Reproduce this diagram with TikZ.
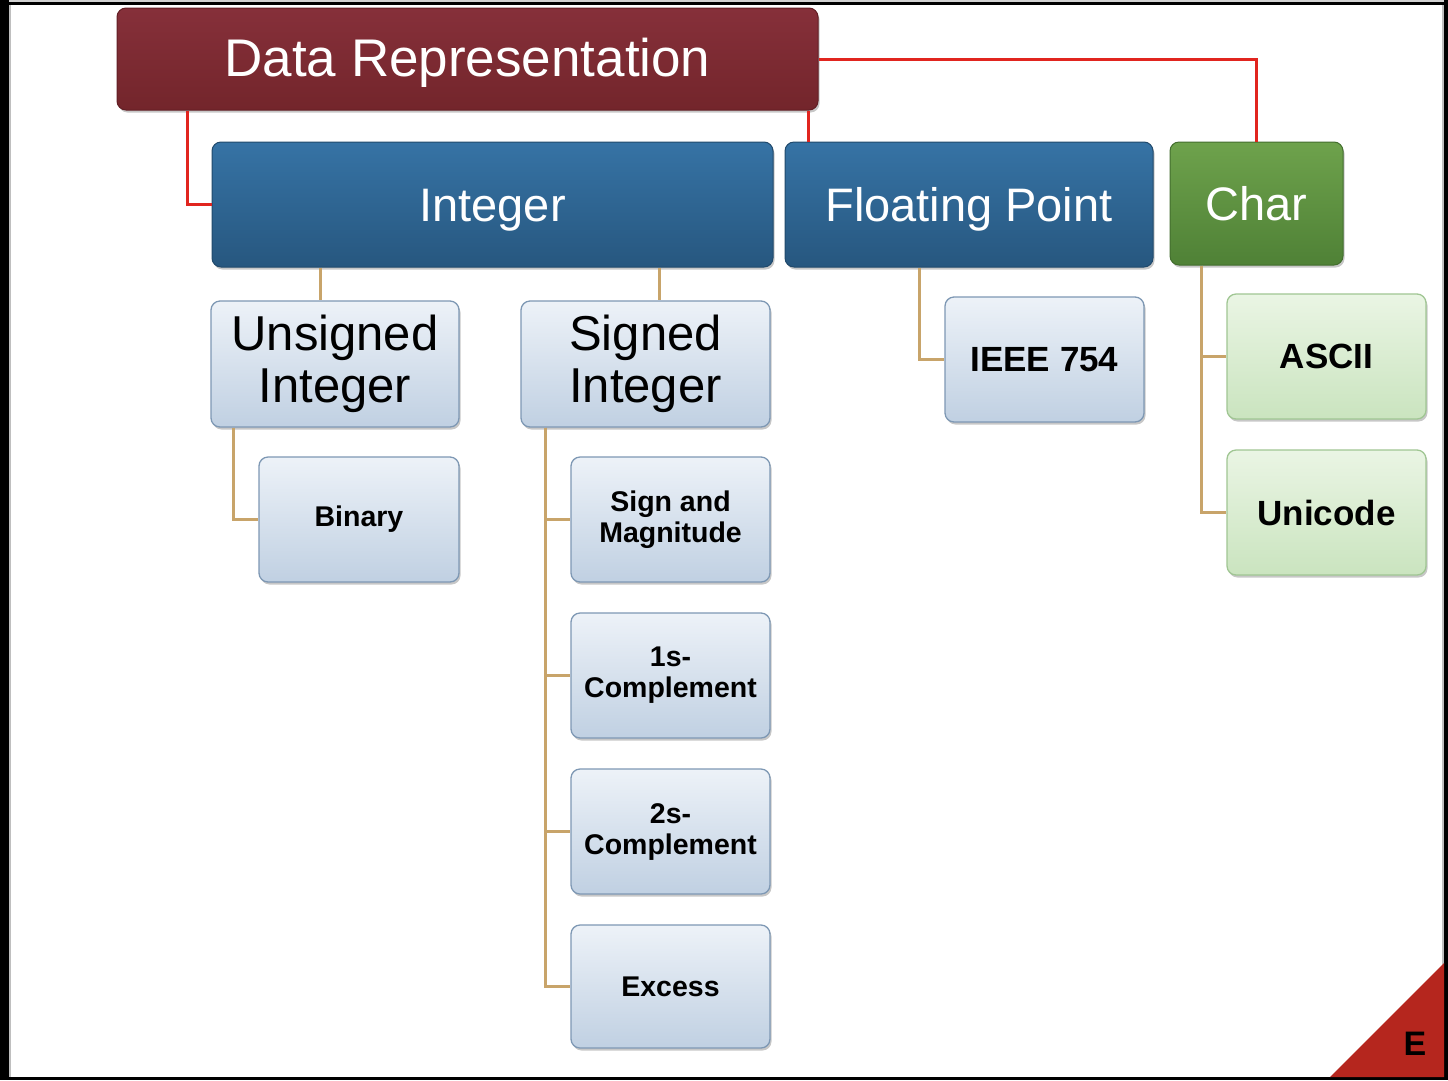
\documentclass[tikz,border=0pt]{standalone}
\usepackage{fontspec}
\setmainfont{Liberation Sans}
\usetikzlibrary{shadows}
\definecolor{drtop}{HTML}{86303A}
\definecolor{drbot}{HTML}{73252B}
\definecolor{bltop}{HTML}{3673A5}
\definecolor{blbot}{HTML}{27577F}
\definecolor{grtop}{HTML}{6EA24C}
\definecolor{grbot}{HTML}{4F8136}
\definecolor{lbtop}{HTML}{EDF2F8}
\definecolor{lbbot}{HTML}{C0D0E2}
\definecolor{lbdraw}{HTML}{7E98B4}
\definecolor{lgtop}{HTML}{EAF5E4}
\definecolor{lgbot}{HTML}{CAE4BF}
\definecolor{lgdraw}{HTML}{A0C693}
\definecolor{redln}{HTML}{E1251F}
\definecolor{tanln}{HTML}{C8A46A}
\definecolor{tricol}{HTML}{B5261E}
\begin{document}
\begin{tikzpicture}[x=1pt,y=-1pt,
  box/.style={rounded corners=9pt, inner sep=0pt, align=center,
    drop shadow={shadow xshift=1.5pt,shadow yshift=-2.5pt,fill=black,opacity=0.22}},
  redbox/.style={box, top color=drtop, bottom color=drbot, draw=drbot!85!black, line width=1pt, text=white,
    font=\fontsize{53}{60}\selectfont, text height=34pt, text depth=0pt},
  bluebox/.style={box, top color=bltop, bottom color=blbot, draw=blbot!85!black, line width=1pt, text=white,
    font=\fontsize{47}{54}\selectfont, text height=33.6pt, text depth=0pt},
  greenbox/.style={box, top color=grtop, bottom color=grbot, draw=grbot!85!black, line width=1pt, text=white,
    font=\fontsize{47}{54}\selectfont, text height=33.6pt, text depth=0pt},
  lightbox/.style={box, top color=lbtop, bottom color=lbbot, draw=lbdraw, line width=1.3pt, text=black,
    minimum width=199pt, minimum height=125pt},
  lgbox/.style={box, top color=lgtop, bottom color=lgbot, draw=lgdraw, line width=1.3pt, text=black,
    minimum width=199pt, minimum height=125pt},
  bigtxt/.style={font=\fontsize{49}{52}\selectfont},
  smalltxt/.style={font=\bfseries\fontsize{28.5}{31}\selectfont},
  midtxt/.style={font=\bfseries\fontsize{35}{40}\selectfont},
  redline/.style={draw=redln, line width=3pt},
  tanline/.style={draw=tanln, line width=3pt}
]
% page and frame
\fill[white] (0,0) rectangle (1448,1080);
\useasboundingbox (0,0) rectangle (1448,1080);
\fill[black!18] (0,0) rectangle (1448,2);
\fill[black] (0,2) rectangle (1448,4.5);
\fill[black] (0,0) rectangle (9,1080);
\fill[black!25] (9,4.5) rectangle (10.5,1077);
\fill[black!25] (1442,4.5) rectangle (1444,1077);
\fill[black] (1444,0) rectangle (1448,1080);
\fill[black] (0,1077) rectangle (1448,1080);

% corner triangle
\fill[tricol] (1330,1077) -- (1444,963) -- (1444,1077) -- cycle;
\node[font=\bfseries\fontsize{34}{40}\selectfont, text=black] (cornerE) at (1415,1044) {E};

% nodes
\node[redbox, minimum width=701pt, minimum height=102pt] (dr) at (467.5,59) {Data Representation};
\node[bluebox, minimum width=561pt, minimum height=125pt] (int) at (492.5,204.5) {Integer};
\node[bluebox, minimum width=368pt, minimum height=125pt] (fp) at (969,204.5) {Floating Point};
\node[greenbox, minimum width=173pt, minimum height=123pt] (ch) at (1256.5,203.5) {Char};

\node[lightbox, bigtxt, minimum width=248pt, minimum height=126pt] (us) at (335,364) {Unsigned\\Integer};
\node[lightbox, bigtxt, minimum width=249pt, minimum height=126pt] (si) at (645.5,364) {Signed\\Integer};
\node[lightbox, smalltxt, minimum width=200pt] (bin) at (359,519.5) {Binary};
\node[lightbox, smalltxt] (sm) at (670.5,519.5) {Sign and\\Magnitude};
\node[lightbox, smalltxt] (c1) at (670.5,675.5) {1s-\\Complement};
\node[lightbox, smalltxt] (c2) at (670.5,831.5) {2s-\\Complement};
\node[lightbox, smalltxt, minimum height=123pt] (ex) at (670.5,986.5) {Excess};
\node[lightbox, midtxt] (ieee) at (1044.5,359.5) {IEEE 754};
\node[lgbox, midtxt] (ascii) at (1326.5,356.5) {ASCII};
\node[lgbox, midtxt] (uni) at (1326.5,512.5) {Unicode};

% red connectors
\draw[redline] ([xshift=71pt]dr.south west) |- (int.west);
\coordinate (rfp) at ([xshift=-10pt]dr.south east);
\draw[redline] (rfp) -- (rfp |- fp.north);
\draw[redline] (dr.east) -| (ch.north);

% tan connectors
\coordinate (tus) at ([xshift=109pt]int.south west);
\draw[tanline] (tus) -- (tus |- us.north);
\coordinate (tsi) at ([xshift=448pt]int.south west);
\draw[tanline] (tsi) -- (tsi |- si.north);
\coordinate (tbin) at ([xshift=23pt]us.south west);
\draw[tanline] (tbin) |- (bin.west);
\coordinate (tsg) at ([xshift=25pt]si.south west);
\draw[tanline] (tsg) |- (ex.west);
\draw[tanline] (tsg) |- (sm.west);
\draw[tanline] (tsg) |- (c1.west);
\draw[tanline] (tsg) |- (c2.west);
\coordinate (tfp) at ([xshift=135pt]fp.south west);
\draw[tanline] (tfp) |- (ieee.west);
\coordinate (tch) at ([xshift=32pt]ch.south west);
\draw[tanline] (tch) |- (uni.west);
\draw[tanline] (tch) |- (ascii.west);
\end{tikzpicture}
\end{document}
